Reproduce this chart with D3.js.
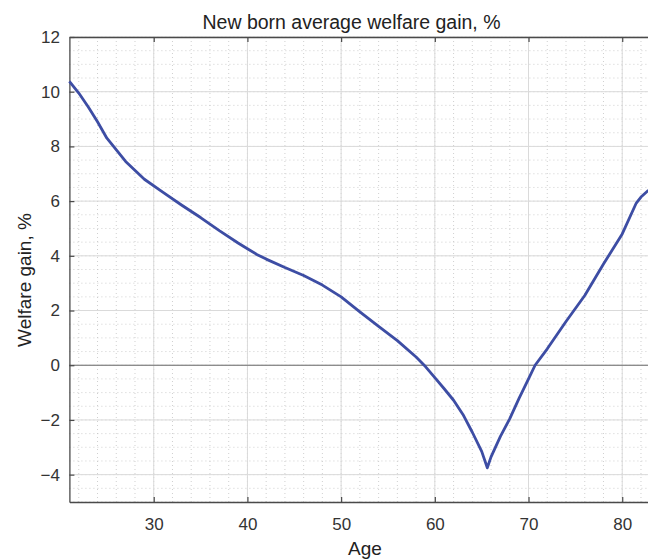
<!DOCTYPE html>
<html><head><meta charset="utf-8">
<script src="https://cdn.jsdelivr.net/npm/d3@7"></script>
<style>body{margin:0;background:#fff;} text{font-family:"Liberation Sans",Arial,sans-serif;}</style>
</head><body><svg id="c" width="648" height="560"></svg>
<script>
const ages = [21,22,23,24,25,27,29,31,33,35,37,39,40,41,42,44,46,48,50,52,54,56,58,59,60,61,62,63,64,65,65.6,66,67,68,69,70,70.7,72,74,76,78,80,81.5,82,82.8];
const gain = [10.38,9.95,9.45,8.9,8.3,7.45,6.8,6.32,5.85,5.4,4.92,4.47,4.26,4.05,3.88,3.57,3.28,2.93,2.5,1.95,1.42,0.9,0.3,-0.05,-0.45,-0.86,-1.28,-1.8,-2.45,-3.15,-3.75,-3.35,-2.6,-1.95,-1.2,-0.5,0,0.6,1.6,2.55,3.7,4.8,5.93,6.15,6.4];
const xTicks = [30,40,50,60,70,80];
const yTicks = [-4,-2,0,2,4,6,8,10,12];
const title = "New born average welfare gain, %";
const xLabel = "Age";
const yLabel = "Welfare gain, %";

const svg = d3.select("#c");
const L = 69.4, T = 37, B = 502, R = 650;
const x = d3.scaleLinear().domain([21, 83]).range([L, L + 62 * 9.37]);
const y = d3.scaleLinear().domain([-5, 12]).range([B, T]);

const g = svg.append("g");
// minor grid
const xMinor = d3.range(22, 84, 2);
const yMinor = d3.range(-5, 12.01, 0.5);
g.selectAll(".mx").data(xMinor).join("line")
  .attr("x1", d => x(d)).attr("x2", d => x(d)).attr("y1", T).attr("y2", B)
  .attr("stroke", "#c4c4c4").attr("stroke-width", 0.8).attr("stroke-dasharray", "1,3");
g.selectAll(".my").data(yMinor).join("line")
  .attr("x1", L).attr("x2", R).attr("y1", d => y(d)).attr("y2", d => y(d))
  .attr("stroke", "#c4c4c4").attr("stroke-width", 0.8).attr("stroke-dasharray", "1,3");
// major grid
g.selectAll(".gx").data(xTicks).join("line")
  .attr("x1", d => x(d)).attr("x2", d => x(d)).attr("y1", T).attr("y2", B)
  .attr("stroke", "#dadada").attr("stroke-width", 1);
g.selectAll(".gy").data(yTicks).join("line")
  .attr("x1", L).attr("x2", R).attr("y1", d => y(d)).attr("y2", d => y(d))
  .attr("stroke", "#dadada").attr("stroke-width", 1);
// zero line
g.append("line").attr("x1", L).attr("x2", R).attr("y1", y(0)).attr("y2", y(0))
  .attr("stroke", "#707070").attr("stroke-width", 1.2);

// axes
const axB = svg.append("g").attr("transform", `translate(0,${B})`)
  .call(d3.axisBottom(x).tickValues(xTicks).tickSizeInner(-5).tickSizeOuter(0).tickPadding(16));
const axT = svg.append("g").attr("transform", `translate(0,${T})`)
  .call(d3.axisTop(x).tickValues(xTicks).tickSizeInner(-5).tickSizeOuter(0).tickFormat(""));
const axL = svg.append("g").attr("transform", `translate(${L},0)`)
  .call(d3.axisLeft(y).tickValues(yTicks).tickSizeInner(-5).tickSizeOuter(0).tickPadding(9.5)
    .tickFormat(d => d < 0 ? "\u2212" + Math.abs(d) : d));
[axB, axT, axL].forEach(a => {
  a.select(".domain").attr("stroke", "#4a4a4a").attr("stroke-width", 1.3);
  a.selectAll(".tick line").attr("stroke", "#4a4a4a").attr("stroke-width", 1.2);
  a.selectAll(".tick text").attr("fill", "#333").style("font-size", "17px");
});

// line
svg.append("path").datum(ages.map((a, i) => [a, gain[i]]))
  .attr("fill", "none").attr("stroke", "#3d4da4").attr("stroke-width", 2.8)
  .attr("stroke-linejoin", "round")
  .attr("d", d3.line().x(d => x(d[0])).y(d => y(d[1])));

svg.append("text").attr("x", 351.5).attr("y", 29).attr("text-anchor", "middle")
  .style("font-size", "19.5px").attr("fill", "#222").text(title);
svg.append("text").attr("x", 365).attr("y", 555).attr("text-anchor", "middle")
  .style("font-size", "19px").attr("fill", "#222").text(xLabel);
svg.append("text").attr("transform", `translate(31,280) rotate(-90)`)
  .attr("text-anchor", "middle").style("font-size", "19px").attr("fill", "#222").text(yLabel);
</script></body></html>
